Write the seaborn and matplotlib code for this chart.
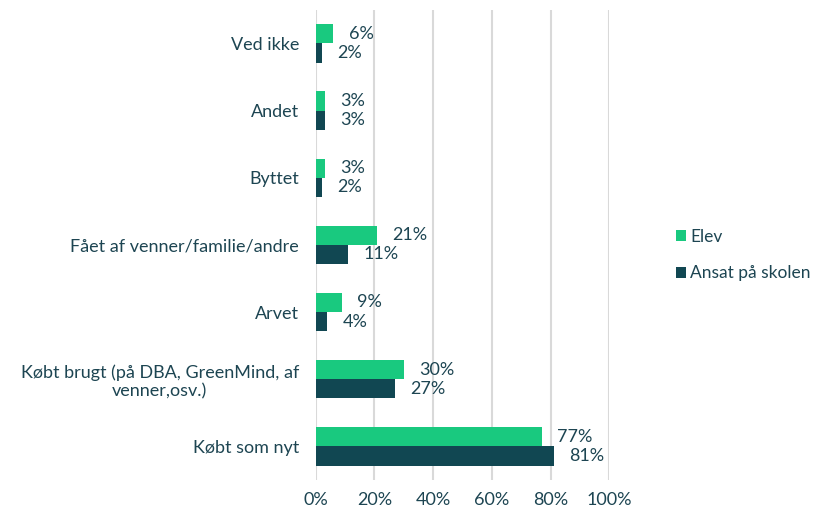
import matplotlib
matplotlib.use("Agg")
import matplotlib.pyplot as plt
import seaborn as sns
import pandas as pd
from matplotlib.patches import Patch

# Data
categories = [
    "Ved ikke",
    "Andet",
    "Byttet",
    "Fået af venner/familie/andre",
    "Arvet",
    "Købt brugt (på DBA, GreenMind, af\nvenner,osv.)",
    "Købt som nyt",
]
elev = [6, 3, 3, 21, 9, 30, 77]
ansat = [2, 3, 2, 11, 4, 27, 81]
series = ["Elev", "Ansat på skolen"]
x_ticks = [0, 20, 40, 60, 80, 100]

colors = ["#19c97f", "#114752"]
text_color = "#1d4552"
fs = 13

df = pd.DataFrame({
    "Kategori": categories * 2,
    "Gruppe": [series[0]] * len(categories) + [series[1]] * len(categories),
    "Andel": elev + ansat,
})

sns.set_style("white")
plt.rcParams["font.family"] = ["Lato", "DejaVu Sans"]

fig = plt.figure(figsize=(8.18, 5.15), dpi=100)
ax = fig.add_axes([0.386, 0.068, 0.359, 0.913])

sns.barplot(data=df, x="Andel", y="Kategori", hue="Gruppe", orient="h",
            palette=colors, width=0.57, ax=ax, legend=False, saturation=1,
            linewidth=0)

# value labels
for container in ax.containers:
    for bar in container:
        w = bar.get_width()
        ax.annotate(f"{w:.0f}%", (w, bar.get_y() + bar.get_height() / 2),
                    xytext=(11, 0), textcoords="offset points",
                    ha="left", va="center", fontsize=fs, color=text_color)

ax.set_xlim(0, 100)
ax.set_xticks(x_ticks)
ax.set_xticklabels([f"{t}%" for t in x_ticks], fontsize=fs, color=text_color)
ax.set_ylim(len(categories) - 0.5, -0.5)
ax.set_xlabel("")
ax.set_ylabel("")
for lbl in ax.get_yticklabels():
    lbl.set_fontsize(fs)
    lbl.set_color(text_color)
    lbl.set_multialignment("center")
ax.tick_params(axis="both", length=0)
ax.tick_params(axis="y", pad=12)
ax.tick_params(axis="x", pad=9)

ax.grid(axis="x", color="#d9d9d9", linewidth=1.5)
ax.set_axisbelow(True)
for s in ax.spines.values():
    s.set_visible(False)

handles = [Patch(facecolor=c, edgecolor="none") for c in colors]
fig.legend(handles, series, loc="center left", bbox_to_anchor=(0.826, 0.505),
           frameon=False, fontsize=12.5, labelcolor=text_color,
           handlelength=0.6, handleheight=0.6, handletextpad=0.25,
           labelspacing=1.2, borderaxespad=0, borderpad=0)

fig.savefig("out.png", dpi=100)
